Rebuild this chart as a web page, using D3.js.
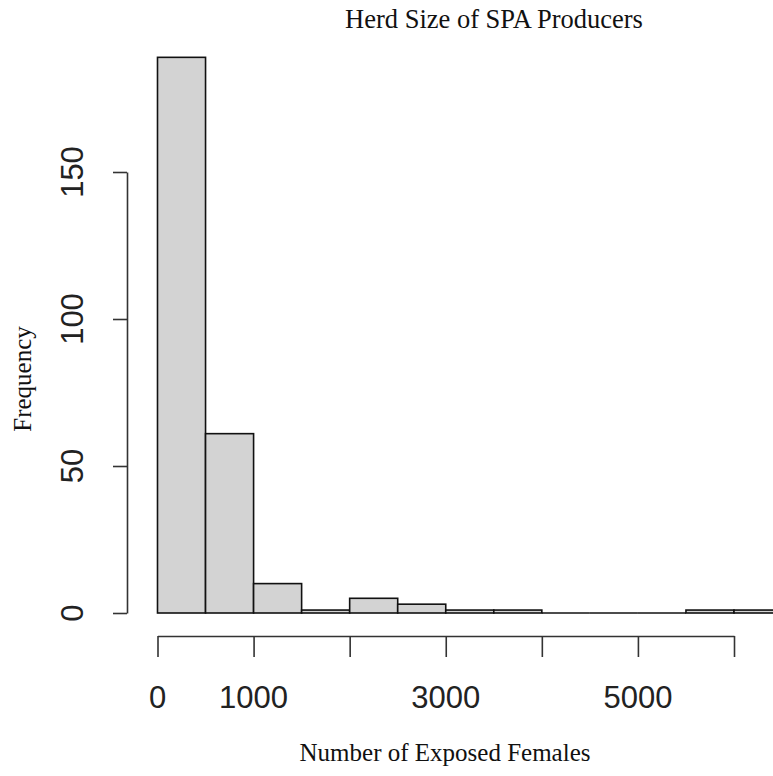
<html>
<head>
<script src="https://d3js.org/d3.v7.min.js"></script>
<style>
    body { margin: 0; background: white; }
    .bar { fill: #d3d3d3; stroke: #111; stroke-width: 1.6; }
    .axis path, .axis line { stroke: #333; stroke-width: 1.6; }
    .tick-label { font-family: "Liberation Sans", Arial, sans-serif; font-size: 31px; fill: #222; }
    .serif { font-family: "Liberation Serif", "Times New Roman", serif; fill: #111; }
</style>
</head>
<body>
<svg id="chart" width="773" height="776"></svg>
<script>
    // histogram bins (width 500) and counts
    const binStarts = [0, 500, 1000, 1500, 2000, 2500, 3000, 3500, 4000, 4500, 5000, 5500, 6000];
    const counts = [189, 61, 10, 1, 5, 3, 1, 1, 0, 0, 0, 1, 1];
    const binWidth = 500;
    const xTicks = [0, 1000, 2000, 3000, 4000, 5000, 6000];
    const xTickLabels = ["0", "1000", "", "3000", "", "5000", ""];
    const yTicks = [0, 50, 100, 150];

    const svg = d3.select("#chart");

    var x = d3.scaleLinear().domain([0, 6000]).range([157.5, 734]);
    var y = d3.scaleLinear().domain([0, 150]).range([613, 172]);

    svg.selectAll("rect.bar")
        .data(binStarts)
        .enter()
        .append("rect")
        .attr("class", "bar")
        .attr("x", d => x(d))
        .attr("width", d => x(d + binWidth) - x(d))
        .attr("y", (d, i) => y(counts[i]))
        .attr("height", (d, i) => y(0) - y(counts[i]));

    // empty bins still show as a line on the baseline, like R does
    svg.selectAll("line.empty")
        .data(binStarts.filter((d, i) => counts[i] == 0))
        .enter()
        .append("line")
        .attr("x1", d => x(d))
        .attr("x2", d => x(d + binWidth))
        .attr("y1", y(0))
        .attr("y2", y(0))
        .style("stroke", "#111")
        .style("stroke-width", 1.6);

    // x axis
    var gx = svg.append("g")
        .attr("class", "axis")
        .attr("transform", "translate(0,636)")
        .call(d3.axisBottom(x).tickValues(xTicks).tickSizeOuter(0).tickSizeInner(21).tickFormat(""));
    gx.selectAll(".tick text").remove();

    svg.selectAll("text.xlab")
        .data(xTicks)
        .enter()
        .append("text")
        .attr("class", "tick-label")
        .attr("x", d => x(d))
        .attr("y", 708)
        .attr("text-anchor", "middle")
        .text((d, i) => xTickLabels[i]);

    // y axis
    var gy = svg.append("g")
        .attr("class", "axis")
        .attr("transform", "translate(127,0)")
        .call(d3.axisLeft(y).tickValues(yTicks).tickSizeOuter(0).tickSizeInner(14).tickFormat(""));
    gy.selectAll(".tick text").remove();

    svg.selectAll("text.ylab")
        .data(yTicks)
        .enter()
        .append("text")
        .attr("class", "tick-label")
        .attr("transform", d => "translate(83," + y(d) + ") rotate(-90)")
        .attr("text-anchor", "middle")
        .text(d => d);

    // titles
    svg.append("text")
        .attr("class", "serif")
        .attr("x", 494)
        .attr("y", 28)
        .attr("text-anchor", "middle")
        .style("font-size", "26.5px")
        .text("Herd Size of SPA Producers");

    svg.append("text")
        .attr("class", "serif")
        .attr("x", 445)
        .attr("y", 761)
        .attr("text-anchor", "middle")
        .style("font-size", "25px")
        .text("Number of Exposed Females");

    svg.append("text")
        .attr("class", "serif")
        .attr("transform", "translate(31,379) rotate(-90)")
        .attr("text-anchor", "middle")
        .style("font-size", "25px")
        .text("Frequency");
</script>
</body>
</html>
